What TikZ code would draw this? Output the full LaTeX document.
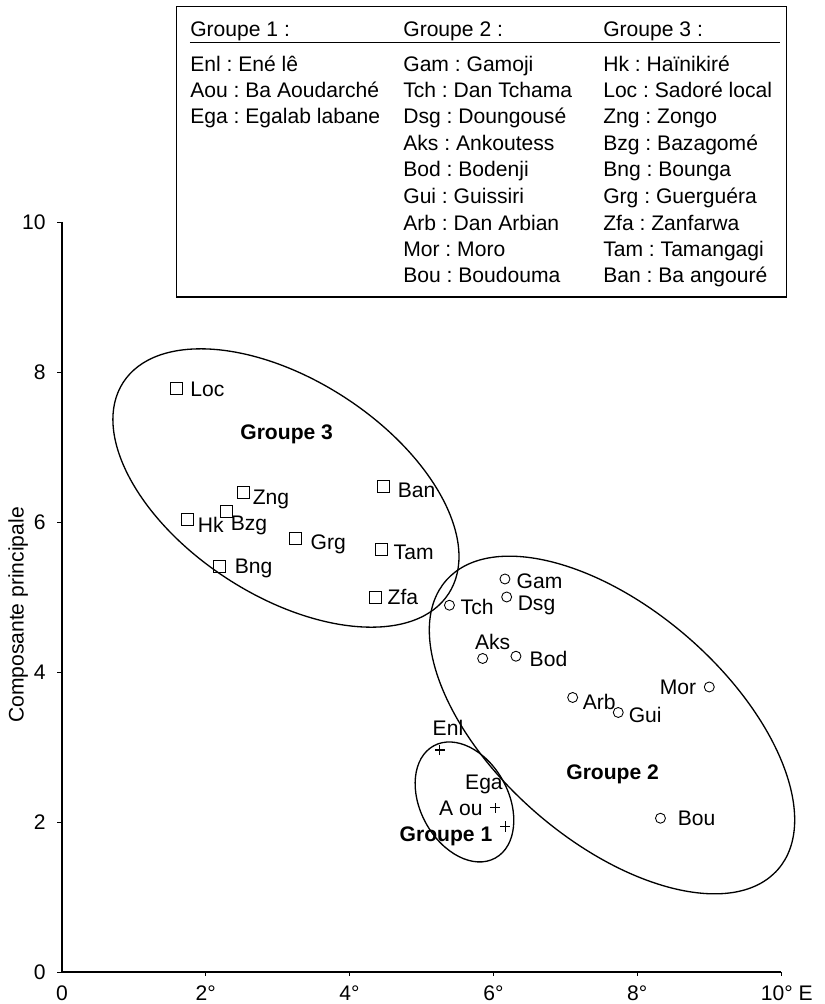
\documentclass[tikz,border=0pt]{standalone}
\usepackage{fontspec}
\setmainfont{Liberation Sans}
\usetikzlibrary{positioning}
\frenchspacing

\tikzset{
  lbl/.style={inner sep=0pt, text height=8.6pt, text depth=0pt, font=\fontsize{12}{14}\selectfont},
  grp/.style={lbl, font=\fontsize{12}{14}\selectfont\bfseries},
  leg/.style={lbl, anchor=base west},
  sq/.style={draw, rectangle, minimum size=0.24cm, inner sep=0pt, line width=0.5pt},
  rd/.style={draw, circle, minimum size=0.2cm, inner sep=0pt, line width=0.5pt},
  plus/.pic={\draw[line width=0.6pt] (-0.07,0) -- (0.07,0) (0,-0.067) -- (0,0.067);},
  grpline/.style={line width=0.75pt}
}

\begin{document}
\begin{tikzpicture}[x=1.438cm, y=1.5cm]
  \useasboundingbox (-0.862,-0.427) rectangle (10.612,12.96);

  % axes
  \draw[line width=0.6pt] (0,10) -- (0,0) -- (10,0);
  \draw (0,0) -- (-0.07,0);
  \draw (0,2) -- (-0.07,2);
  \draw (0,4) -- (-0.07,4);
  \draw (0,6) -- (-0.07,6);
  \draw (0,8) -- (-0.07,8);
  \draw (0,10) -- (-0.07,10);
  \draw (2,0) -- (2,-0.05);
  \draw (4,0) -- (4,-0.05);
  \draw (6,0) -- (6,-0.05);
  \draw (8,0) -- (8,-0.05);
  \draw (10,0) -- (10,-0.05);

  \node[lbl, anchor=east] (ty0) at (-0.2225,0) {0};
  \node[lbl, anchor=east] (ty2) at (-0.2225,2) {2};
  \node[lbl, anchor=east] (ty4) at (-0.2225,4) {4};
  \node[lbl, anchor=east] (ty6) at (-0.2225,6) {6};
  \node[lbl, anchor=east] (ty8) at (-0.2225,8) {8};
  \node[lbl, anchor=east] (ty10) at (-0.2225,10) {10};
  \node[lbl] (tx0) at (0,-0.28) {0};
  \node[lbl] (tx2) at (2,-0.28) {2°};
  \node[lbl] (tx4) at (4,-0.28) {4°};
  \node[lbl] (tx6) at (6,-0.28) {6°};
  \node[lbl] (tx8) at (8,-0.28) {8°};
  \node[lbl] (tx10) at (10.08,-0.28) {10° E};
  \node[lbl, rotate=90] (ytitle) at (-0.64,4.76) {Composante principale};

  % groups
  \draw[grpline, rotate around={-33:(3.115,6.453)}] (3.115,6.453) ellipse [x radius=3.88cm, y radius=2.16cm];
  \draw[grpline, rotate around={-41:(7.650,3.293)}] (7.650,3.293) ellipse [x radius=4.4cm, y radius=2.32cm];
  \draw[grpline, rotate around={-61.3:(5.598,2.267)}] (5.598,2.267) ellipse [x radius=1.28cm, y radius=0.88cm];
  \node[grp] (g3) at (3.125,7.20) {Groupe 3};
  \node[grp] (g2) at (7.659,2.67) {Groupe 2};
  \node[grp] (g1) at (5.341,1.84) {Groupe 1};

  % groupe 3
  \node[sq] (loc) at (1.595,7.78) {};
  \node[lbl, right=0.14cm of loc] (locl) {Loc};
  \node[sq] (zng) at (2.522,6.39) {};
  \node[lbl, right=0.054cm of zng, yshift=-0.086cm] (zngl) {Zng};
  \node[sq] (hk) at (1.743,6.03) {};
  \node[lbl, right=0.074cm of hk, yshift=-0.1cm] (hkl) {Hk};
  \node[sq] (bzg) at (2.291,6.14) {};
  \node[lbl, right=-0.054cm of bzg, yshift=-0.226cm] (bzgl) {Bzg};
  \node[sq] (ban) at (4.469,6.47) {};
  \node[lbl, right=0.154cm of ban, yshift=-0.066cm] (banl) {Ban};
  \node[sq] (grg) at (3.250,5.78) {};
  \node[lbl, right=0.166cm of grg, yshift=-0.06cm] (grgl) {Grg};
  \node[sq] (tam) at (4.446,5.63) {};
  \node[lbl, right=0.106cm of tam, yshift=-0.04cm] (taml) {Tam};
  \node[sq] (bng) at (2.188,5.41) {};
  \node[lbl, right=0.174cm of bng] (bngl) {Bng};
  \node[sq] (zfa) at (4.353,5.00) {};
  \node[lbl, right=0.12cm of zfa] (zfal) {Zfa};

  % groupe 2
  \node[rd] (gam) at (6.161,5.24) {};
  \node[lbl, right=0.12cm of gam, yshift=-0.04cm] (gaml) {Gam};
  \node[rd] (dsg) at (6.185,5.00) {};
  \node[lbl, right=0.106cm of dsg, yshift=-0.12cm] (dsgl) {Dsg};
  \node[rd] (tch) at (5.389,4.89) {};
  \node[lbl, right=0.11cm of tch, yshift=-0.04cm] (tchl) {Tch};
  \node[rd] (aks) at (5.851,4.18) {};
  \node[lbl, above=0.06cm of aks, xshift=0.2cm] (aksl) {Aks};
  \node[rd] (bod) at (6.314,4.21) {};
  \node[lbl, right=0.16cm of bod, yshift=-0.06cm] (bodl) {Bod};
  \node[rd] (mor) at (9.003,3.80) {};
  \node[lbl, left=0.146cm of mor] (morl) {Mor};
  \node[rd] (arb) at (7.103,3.66) {};
  \node[lbl, right=0.086cm of arb, yshift=-0.08cm] (arbl) {Arb};
  \node[rd] (gui) at (7.737,3.46) {};
  \node[lbl, right=0.094cm of gui, yshift=-0.05cm] (guil) {Gui};
  \node[rd] (bou) at (8.324,2.05) {};
  \node[lbl, right=0.23cm of bou] (boul) {Bou};

  % groupe 1
  \coordinate (enl) at (5.257,2.96);
  \pic at (enl) {plus};
  \node[lbl, above=0.29cm of enl, xshift=0.16cm] (enll) {Enl};
  \coordinate (aou) at (6.029,2.19);
  \pic at (aou) {plus};
  \node[lbl, left=0.25cm of aou] (aoul) {A ou};
  \node[lbl, above=0.35cm of aou, xshift=-0.23cm] (egal) {Ega};
  \coordinate (ega) at (6.168,1.94);
  \pic at (ega) {plus};

  % legende
  \draw[line width=0.6pt] (1.599,9.0) rectangle (10.083,12.867);
  \draw[line width=0.6pt] (1.780,12.387) -- (9.986,12.387);
  \node[leg] (h1) at (1.780,12.467) {Groupe 1 :};
  \node[leg] (h2) at (4.743,12.467) {Groupe 2 :};
  \node[leg] (h3) at (7.524,12.467) {Groupe 3 :};

  \node[leg] (a1) at (1.780,12.013) {Enl : Ené lê};
  \node[leg] (a2) at (1.780,11.660) {Aou : Ba Aoudarché};
  \node[leg] (a3) at (1.780,11.307) {Ega : Egalab labane};

  \node[leg] (b1) at (4.743,12.013) {Gam : Gamoji};
  \node[leg] (b2) at (4.743,11.660) {Tch : Dan Tchama};
  \node[leg] (b3) at (4.743,11.307) {Dsg : Doungousé};
  \node[leg] (b4) at (4.743,10.953) {Aks : Ankoutess};
  \node[leg] (b5) at (4.743,10.600) {Bod : Bodenji};
  \node[leg] (b6) at (4.743,10.247) {Gui : Guissiri};
  \node[leg] (b7) at (4.743,9.893) {Arb : Dan Arbian};
  \node[leg] (b8) at (4.743,9.540) {Mor : Moro};
  \node[leg] (b9) at (4.743,9.187) {Bou : Boudouma};

  \node[leg] (c1) at (7.524,12.013) {Hk : Haïnikiré};
  \node[leg] (c2) at (7.524,11.660) {Loc : Sadoré local};
  \node[leg] (c3) at (7.524,11.307) {Zng : Zongo};
  \node[leg] (c4) at (7.524,10.953) {Bzg : Bazagomé};
  \node[leg] (c5) at (7.524,10.600) {Bng : Bounga};
  \node[leg] (c6) at (7.524,10.247) {Grg : Guerguéra};
  \node[leg] (c7) at (7.524,9.893) {Zfa : Zanfarwa};
  \node[leg] (c8) at (7.524,9.540) {Tam : Tamangagi};
  \node[leg] (c9) at (7.524,9.187) {Ban : Ba angouré};
\end{tikzpicture}
\end{document}
